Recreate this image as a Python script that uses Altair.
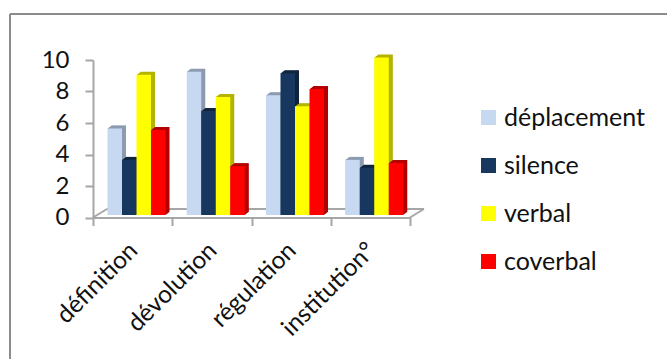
import altair as alt
import pandas as pd

# Scores per teaching phase, one list per observed behaviour
categories = ["définition", "dévolution", "régulation", "institution°"]
series_names = ["déplacement", "silence", "verbal", "coverbal"]
deplacement = [5.5, 9.1, 7.6, 3.5]
silence = [3.5, 6.6, 9.0, 3.0]
verbal = [8.9, 7.5, 6.9, 10.0]
coverbal = [5.4, 3.1, 8.0, 3.3]
series_values = [deplacement, silence, verbal, coverbal]

front_colors = ["#C6D9F1", "#17375E", "#FFFF00", "#FF0000"]
side_colors = ["#8C9BB0", "#10263F", "#B3B300", "#B30000"]

FONT = "Lato"
TEXT = "#111111"
GREY = "#A6A6A6"
FRAME = "#8C8C8C"

PLOT_W = 317
PLOT_H = 157.5
FLOOR_DX = 14
FLOOR_DY = 8.5
BASE_LIFT = 2.5    # bars stand on the floor, slightly behind the front edge
BAR_WIDTH = 0.183  # in category units
GROUP_START = 0.183
DEPTH_STEPS = 8    # the 3-D side is built from these shifted copies
DEPTH_X = 4
DEPTH_Y = 3

rows = []
for j, (s, vals) in enumerate(zip(series_names, series_values)):
    for i, (c, v) in enumerate(zip(categories, vals)):
        left = i + GROUP_START + j * BAR_WIDTH
        rows.append({"category": c, "series": s, "value": v, "base": 0,
                     "left": left, "right": left + BAR_WIDTH})
df = pd.DataFrame(rows)

x_scale = alt.Scale(domain=[0, 4], nice=False, zero=False)
y_scale = alt.Scale(domain=[0, 10], nice=False)

# Every layer shares these two axis definitions so they merge into one axis each
x_axis = alt.Axis(
    title=None, values=[0, 1, 2, 3, 4], labels=False, tickSize=8, tickWidth=2,
    tickColor=GREY, domainColor=GREY, domainWidth=2, grid=False,
)
y_axis = alt.Axis(
    title=None, values=[0, 2, 4, 6, 8, 10], labelFont=FONT, labelFontSize=24,
    labelColor=TEXT, labelPadding=16, tickSize=8, tickWidth=2, tickColor=GREY,
    domainColor=GREY, domainWidth=2, grid=False, labelOverlap=False,
)


def bar_layer(name, color, dx, dy):
    subset = df[df["series"] == name]
    return alt.Chart(subset).mark_bar(
        color=color,
        xOffset=dx,
        x2Offset=dx,
        yOffset=-BASE_LIFT - dy,
        y2Offset=-BASE_LIFT - dy,
    ).encode(
        x=alt.X("left:Q", scale=x_scale, axis=x_axis),
        x2="right:Q",
        y=alt.Y("value:Q", scale=y_scale, axis=y_axis),
        y2="base:Q",
    )


one = df.head(1)

# Floor outline behind the bars
floor_back = alt.Chart(one).mark_rule(color=GREY, strokeWidth=2).encode(
    x=alt.value(FLOOR_DX), x2=alt.value(PLOT_W + FLOOR_DX), y=alt.value(PLOT_H - FLOOR_DY),
)
floor_left = alt.Chart(one).mark_rule(color=GREY, strokeWidth=2).encode(
    x=alt.value(0), x2=alt.value(FLOOR_DX), y=alt.value(PLOT_H), y2=alt.value(PLOT_H - FLOOR_DY),
)
floor_right = alt.Chart(one).mark_rule(color=GREY, strokeWidth=2).encode(
    x=alt.value(PLOT_W), x2=alt.value(PLOT_W + FLOOR_DX), y=alt.value(PLOT_H), y2=alt.value(PLOT_H - FLOOR_DY),
)

# Chart frame: only its top and left edges fall inside the canvas
frame_top = alt.Chart(one).mark_rule(color=FRAME, strokeWidth=2).encode(
    x=alt.value(-83), x2=alt.value(574), y=alt.value(-46),
)
frame_left = alt.Chart(one).mark_rule(color=FRAME, strokeWidth=2).encode(
    x=alt.value(-83), y=alt.value(-46), y2=alt.value(299),
)

layers = [frame_top, frame_left, floor_back, floor_left, floor_right]
for name, front, side in zip(series_names, front_colors, side_colors):
    for k in range(DEPTH_STEPS, 0, -1):
        layers.append(bar_layer(name, side, DEPTH_X * k / DEPTH_STEPS, DEPTH_Y * k / DEPTH_STEPS))
    layers.append(bar_layer(name, front, 0, 0))

# Slanted category names below the axis
label_df = pd.DataFrame({"category": categories, "centre": [i + 0.5 for i in range(4)]})
category_labels = alt.Chart(label_df).mark_text(
    font=FONT, fontSize=24.5, color=TEXT, angle=315, align="right", baseline="middle", dx=2, dy=0,
).encode(
    x=alt.X("centre:Q", scale=x_scale, axis=x_axis),
    y=alt.value(PLOT_H + 31),
    text="category:N",
)
layers.append(category_labels)

# Colour key built from square symbols
legend_df = pd.DataFrame({"series": series_names, "centre": [0.5] * 4, "value": [0] * 4})
legend_layer = alt.Chart(legend_df).mark_point(opacity=0, filled=True).encode(
    x=alt.X("centre:Q", scale=x_scale, axis=x_axis),
    y=alt.Y("value:Q", scale=y_scale, axis=y_axis),
    color=alt.Color(
        "series:N", sort=series_names,
        scale=alt.Scale(domain=series_names, range=front_colors),
        legend=alt.Legend(
            title=None, orient="none", legendX=383, legendY=45, symbolType="square",
            symbolSize=225, symbolStrokeWidth=0, symbolOpacity=1, labelFont=FONT,
            labelFontSize=25, labelColor=TEXT, labelOffset=3, rowPadding=22,
            labelLimit=300, clipHeight=25,
        ),
    ),
)
layers.append(legend_layer)

chart = alt.layer(*layers).properties(
    width=PLOT_W,
    height=PLOT_H,
    autosize=alt.AutoSizeParams(type="none"),
    padding={"left": 93, "top": 60, "right": 257, "bottom": 141.5},
    background="white",
).configure_view(stroke=None)

chart.save("out.html", embed_options={"renderer": "svg", "actions": False})
